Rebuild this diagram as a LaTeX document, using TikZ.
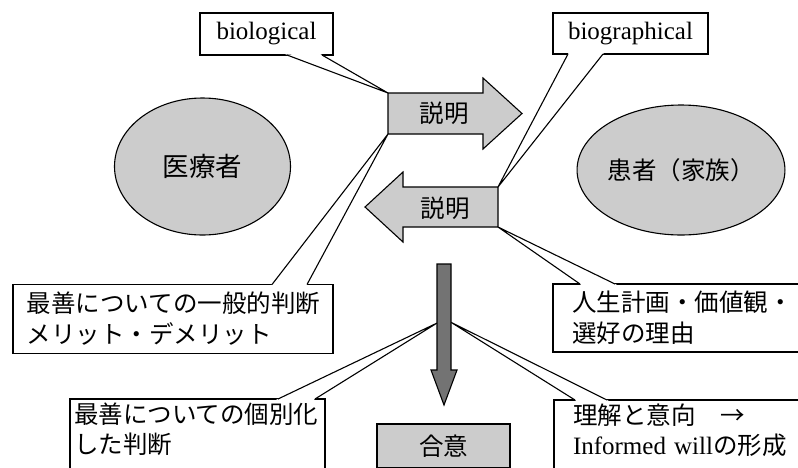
\documentclass[tikz,border=0pt]{standalone}
\usepackage{fontspec}
\setmainfont{Liberation Serif}
\newfontfamily\jp{Noto Sans CJK JP}
\usetikzlibrary{calc,shapes.geometric}
\newcommand\mytail[3]{%
  \fill[white] ($(#1)!-2pt!(#3)$) -- (#3) -- ($(#2)!-2pt!(#3)$) -- cycle;
  \draw[ln, line join=round] (#1) -- (#3) -- (#2);
}
\begin{document}
\begin{tikzpicture}[x=1pt,y=-1pt,
  ln/.style={line width=1.1pt},
  stip/.style={fill=black!20},
  dark/.style={fill=black!55},
  jfont/.style={font=\jp\fontsize{24.5}{30}\selectfont},
  lfont/.style={font=\fontsize{25}{28}\selectfont},
  box/.style={draw, ln, fill=white, rectangle, inner sep=0pt, outer sep=0pt},
  mbox/.style={box, jfont, align=left},
  plain/.style={inner sep=0pt, outer sep=0pt},
]
\useasboundingbox (0,0) rectangle (798,467);
\clip (0,0) rectangle (798,467);

% ---------- text boxes ----------
\node[box, lfont, minimum width=133pt, minimum height=42pt] (bio) at (266.5,34) {biological};
\node[box, lfont, minimum width=155pt, minimum height=41pt] (biog) at (630.5,33.5) {biographical};
\node[mbox, font=\jp\fontsize{24.5}{31}\selectfont, minimum width=320pt, minimum height=69pt,
      inner xsep=14pt, text width=292pt] (gen) at (173,319)
      {最善についての一般的判断\\メリット・デメリット};
\node[mbox, font=\jp\fontsize{24.5}{31}\selectfont, anchor=north west, minimum height=68pt,
      inner xsep=19pt, text width=240pt] (life) at (553,284)
      {人生計画・価値観・\\選好の理由};
\node[mbox, anchor=north west, inner xsep=4pt, inner ysep=4pt, text width=247pt] (indiv) at (70,399)
      {最善についての個別化\\した判断\rule[-40pt]{0pt}{40pt}};
\node[mbox, anchor=north west, inner xsep=19pt, inner ysep=4pt, text width=240pt] (inf) at (554,400)
      {理解と意向　→\\{\rmfamily\fontsize{25}{30}\selectfont Informed will}の形成\rule[-40pt]{0pt}{40pt}};
\node[box, stip, jfont, minimum width=133pt, minimum height=44pt, anchor=north] (agree) at (443.5,424) {合意};

% ---------- arrow bodies (named) ----------
\node[plain, minimum width=95pt, minimum height=41pt] (rbody) at (435.5,113.5) {};
\coordinate (rtip) at (522,113.5);
\node[plain, minimum width=95pt, minimum height=40pt] (lbody) at (450.5,207) {};
\coordinate (ltip) at (365,207);
\node[plain, minimum width=14pt, minimum height=106pt] (vsh) at (444,317) {};
\coordinate (vtip) at (444,405);
\coordinate (ia) at ($(vsh.north west)!0.557!(vsh.south west)$);
\coordinate (ib) at ($(vsh.north east)!0.55!(vsh.south east)$);

% ---------- callout tails ----------
\coordinate (bioL) at ($(bio.south west)+(87,0)$);
\coordinate (bioR) at ($(bio.south west)+(122,0)$);
\mytail{bioL}{bioR}{rbody.north west}
\coordinate (biogL) at ($(biog.south west)+(15,0)$);
\coordinate (biogR) at ($(biog.south west)+(50,0)$);
\mytail{biogL}{biogR}{lbody.north east}
\coordinate (genL) at ($(gen.north west)+(259,0)$);
\coordinate (genR) at ($(gen.north west)+(294,0)$);
\mytail{genL}{genR}{rbody.south west}
\coordinate (lifeL) at ($(life.north west)+(27,0)$);
\coordinate (lifeR) at ($(life.north west)+(62,0)$);
\mytail{lifeL}{lifeR}{lbody.south east}
\coordinate (indL) at ($(indiv.north west)+(208,0)$);
\coordinate (indR) at ($(indiv.north west)+(245,0)$);
\mytail{indL}{indR}{ia}
\coordinate (infL) at ($(inf.north west)+(21,0)$);
\coordinate (infR) at ($(inf.north west)+(53,0)$);
\mytail{infL}{infR}{ib}

% ---------- ellipses ----------
\node[ellipse, draw, ln, stip, minimum width=176pt, minimum height=137pt, inner sep=0pt,
      font=\jp\fontsize{26.5}{30}\selectfont] (med) at (202.5,166.5) {医療者};
\node[ellipse, draw, ln, stip, minimum width=172pt, minimum height=130pt, inner sep=0pt, jfont]
      (pat) at (681,170) {患者（家族）};

% ---------- block arrows ----------
\draw[ln, stip] (rbody.north west) -- (rbody.north east) -- ++(0,-15) -- (rtip)
   -- ($(rbody.south east)+(0,15)$) -- (rbody.south east) -- (rbody.south west) -- cycle;
\node[jfont] (rtxt) at (444,113.5) {説明};
\draw[ln, stip] (lbody.north east) -- (lbody.north west) -- ++(0,-15) -- (ltip)
   -- ($(lbody.south west)+(0,15)$) -- (lbody.south west) -- (lbody.south east) -- cycle;
\node[jfont] (ltxt) at (445,208) {説明};
\draw[ln, dark] (vsh.north west) -- (vsh.north east) -- (vsh.south east) -- ++(6,0) -- (vtip)
   -- ($(vsh.south west)+(-6,0)$) -- (vsh.south west) -- cycle;
\end{tikzpicture}
\end{document}
